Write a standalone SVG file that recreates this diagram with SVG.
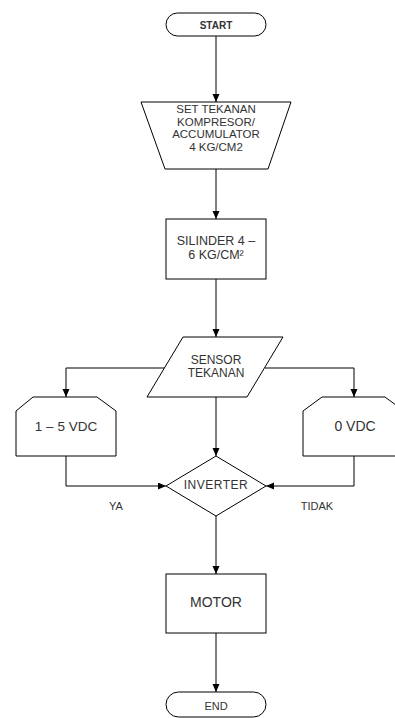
<svg xmlns="http://www.w3.org/2000/svg" width="395" height="718" viewBox="0 0 395 718">
<style>
.shape{fill:#fff;stroke:#000;stroke-width:1}
.conn{fill:none;stroke:#000;stroke-width:1;marker-end:url(#arr)}
text{font-family:"Liberation Sans",Arial,sans-serif;fill:#333;text-anchor:middle;dominant-baseline:central}
</style>
<defs>
<marker id="arr" markerUnits="userSpaceOnUse" markerWidth="8" markerHeight="8" refX="8" refY="3.5" orient="auto">
<path d="M0,0 L8,3.5 L0,7 z" fill="#000"/>
</marker>
</defs>
<rect width="395" height="718" fill="#fff"/>
<g id="connectors">
<path class="conn" d="M216,36 V102"/>
<path class="conn" d="M216,169 V219"/>
<path class="conn" d="M216,279 V337"/>
<path class="conn" d="M165,368 H66 V397"/>
<path class="conn" d="M265,368 H354 V397"/>
<path class="conn" d="M216,397 V456"/>
<path class="conn" d="M66,456 V486 H166"/>
<path class="conn" d="M354,456 V486 H266"/>
<path class="conn" d="M216,516 V574"/>
<path class="conn" d="M216,633 V692"/>
<text x="116" y="506" font-size="11">YA</text>
<text x="317" y="506" font-size="11">TIDAK</text>
</g>
<g id="start">
<rect class="shape" x="166" y="13" width="100" height="23" rx="11.5" ry="11.5"/>
<text x="216" y="25" font-size="10" font-weight="bold" fill="#555">START</text>
</g>
<g id="set-tekanan">
<polygon class="shape" points="141,102 291,102 268,169 165,169"/>
<text x="216" y="109" font-size="11.5">SET TEKANAN</text>
<text x="216" y="121.5" font-size="11.5">KOMPRESOR/</text>
<text x="216" y="134" font-size="11.5">ACCUMULATOR</text>
<text x="216" y="146.5" font-size="11.5">4 KG/CM2</text>
</g>
<g id="silinder">
<rect class="shape" x="166" y="219" width="100" height="60"/>
<text x="216" y="241" font-size="12.5">SILINDER 4 –</text>
<text x="216" y="255" font-size="12.5">6 KG/CM²</text>
</g>
<g id="sensor">
<polygon class="shape" points="183,337 283,337 247,397 147,397"/>
<text x="216" y="360" font-size="12">SENSOR</text>
<text x="216" y="373" font-size="12">TEKANAN</text>
</g>
<g id="vdc15">
<polygon class="shape" points="33,397 97,397 116,411 116,456 16,456 16,411"/>
<text x="66" y="426" font-size="13.5">1 – 5 VDC</text>
</g>
<g id="vdc0">
<polygon class="shape" points="322,397 385,397 404,411 404,456 303,456 303,411"/>
<text x="355" y="426" font-size="14">0 VDC</text>
</g>
<g id="inverter">
<polygon class="shape" points="216,456 266,486 216,516 166,486"/>
<text x="216" y="485" font-size="12" letter-spacing="0.5">INVERTER</text>
</g>
<g id="motor">
<rect class="shape" x="166" y="574" width="100" height="59"/>
<text x="216" y="602" font-size="14">MOTOR</text>
</g>
<g id="end">
<rect class="shape" x="166" y="692" width="100" height="25" rx="12.5" ry="12.5"/>
<text x="216" y="706" font-size="11">END</text>
</g>
</svg>
